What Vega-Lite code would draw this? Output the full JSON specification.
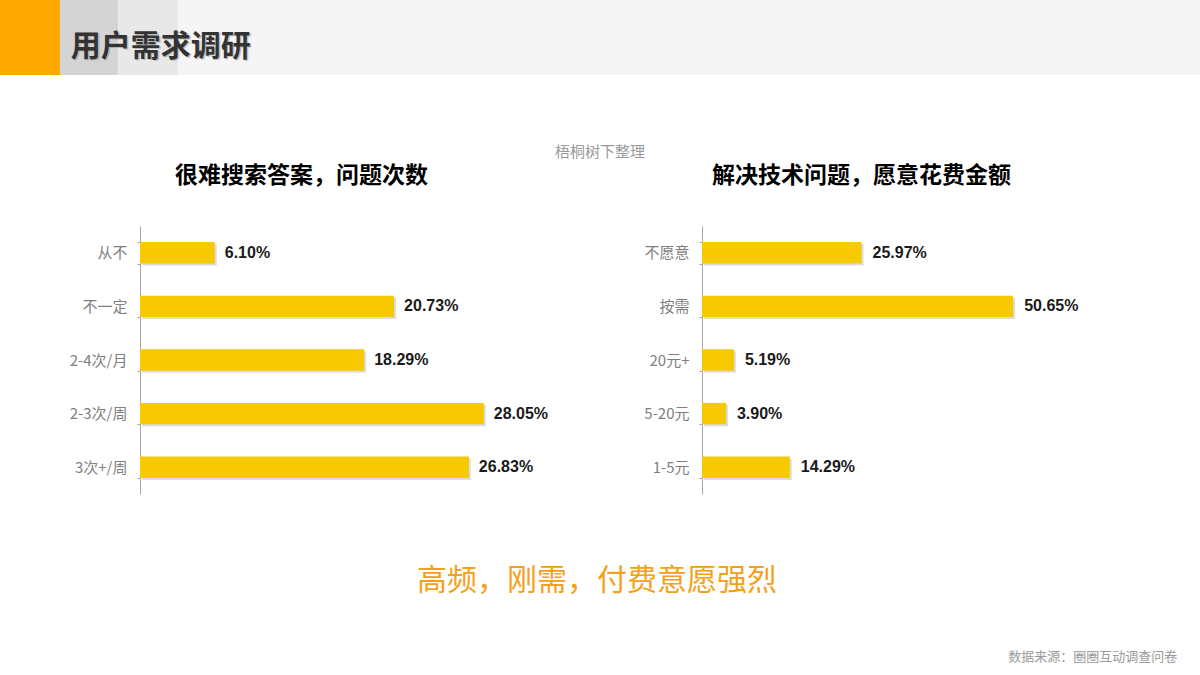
{
  "$schema": "https://vega.github.io/schema/vega-lite/v6.json",
  "padding": 0,
  "background": "white",
  "spacing": 0,
  "config": {"view": {"stroke": null}, "font": "Noto Sans CJK SC", "concat": {"spacing": 0}},
  "datasets": {
    "left": [
      {"cat": "从不", "v": 0.061},
      {"cat": "不一定", "v": 0.2073},
      {"cat": "2-4次/月", "v": 0.1829},
      {"cat": "2-3次/周", "v": 0.2805},
      {"cat": "3次+/周", "v": 0.2683}
    ],
    "right": [
      {"cat": "不愿意", "v": 0.2597},
      {"cat": "按需", "v": 0.5065},
      {"cat": "20元+", "v": 0.0519},
      {"cat": "5-20元", "v": 0.039},
      {"cat": "1-5元", "v": 0.1429}
    ]
  },
  "vconcat": [
    {
      "width": 1060,
      "height": 165,
      "layer": [
        {
          "data": {"values": [
            {"part": "a", "start": 0, "end": 1},
            {"part": "b", "start": 1, "end": 1.97},
            {"part": "c", "start": 1.97, "end": 2.97},
            {"part": "d", "start": 2.97, "end": 20}
          ]},
          "mark": {"type": "rect"},
          "encoding": {
            "x": {"field": "start", "type": "quantitative", "scale": {"domain": [2.3333333, 20], "nice": false, "zero": false}, "axis": null},
            "x2": {"field": "end"},
            "y": {"datum": 0, "type": "quantitative", "scale": {"domain": [0, 11], "reverse": true, "nice": false}, "axis": null},
            "y2": {"datum": 5},
            "color": {"field": "part", "type": "nominal", "scale": {"domain": ["a", "b", "c", "d"], "range": ["#FFA800", "#D4D4D4", "#E8E8E8", "#F5F5F5"]}, "legend": null}
          }
        },
        {
          "data": {"values": [{"t": "用户需求调研", "px": 1.205, "py": 3.18}]},
          "mark": {"type": "text", "align": "left", "baseline": "middle", "fontSize": 30, "fontWeight": "bold", "color": "#999999", "opacity": 0.55},
          "encoding": {
            "x": {"field": "px", "type": "quantitative"},
            "y": {"field": "py", "type": "quantitative"},
            "text": {"field": "t"}
          }
        },
        {
          "data": {"values": [{"t": "用户需求调研", "px": 1.18, "py": 3.13}]},
          "mark": {"type": "text", "align": "left", "baseline": "middle", "fontSize": 30, "fontWeight": "bold", "color": "#333333"},
          "encoding": {
            "x": {"field": "px", "type": "quantitative"},
            "y": {"field": "py", "type": "quantitative"},
            "text": {"field": "t"}
          }
        },
        {
          "data": {"values": [{"t": "梧桐树下整理", "px": 10, "py": 10.13}]},
          "mark": {"type": "text", "align": "center", "baseline": "middle", "fontSize": 15, "color": "#9A9A9A"},
          "encoding": {
            "x": {"field": "px", "type": "quantitative"},
            "y": {"field": "py", "type": "quantitative"},
            "text": {"field": "t"}
          }
        }
      ]
    },
    {
      "hconcat": [
        {
          "width": 429,
          "height": 268,
          "title": {"text": "很难搜索答案，问题次数", "anchor": "start", "frame": "group", "dx": 35, "fontSize": 23, "fontWeight": "bold", "color": "#000000", "offset": 31, "font": "Noto Sans CJK SC"},
          "data": {"name": "left"},
          "encoding": {
            "y": {"field": "cat", "type": "nominal", "sort": null, "scale": {"paddingInner": 0.6, "paddingOuter": 0.3},
              "axis": {"title": null, "domainColor": "#A6A6A6", "tickColor": "#A6A6A6", "tickSize": 3, "tickBand": "extent", "labelFontSize": 15, "labelColor": "#7F7F7F", "labelPadding": 10, "minExtent": 140, "maxExtent": 140, "labelFont": "Noto Sans CJK SC"}},
            "x": {"field": "v", "type": "quantitative", "scale": {"domain": [0, 0.35], "nice": false}, "axis": null}
          },
          "layer": [
            {"mark": {"type": "bar", "color": "#9E9E9E", "opacity": 0.35, "xOffset": 2, "yOffset": 2}},
            {"mark": {"type": "bar", "color": "#F6C900"}},
            {"mark": {"type": "text", "align": "left", "baseline": "middle", "dx": 10, "fontSize": 16, "fontWeight": "bold", "font": "Liberation Sans", "color": "#1A1A1A"},
              "encoding": {"text": {"field": "v", "type": "quantitative", "format": ".2%"}}}
          ]
        },
        {
          "width": 430,
          "height": 268,
          "title": {"text": "解决技术问题，愿意花费金额", "anchor": "start", "frame": "group", "dx": 10, "fontSize": 23, "fontWeight": "bold", "color": "#000000", "offset": 31, "font": "Noto Sans CJK SC"},
          "data": {"name": "right"},
          "encoding": {
            "y": {"field": "cat", "type": "nominal", "sort": null, "scale": {"paddingInner": 0.6, "paddingOuter": 0.3},
              "axis": {"title": null, "domainColor": "#A6A6A6", "tickColor": "#A6A6A6", "tickSize": 3, "tickBand": "extent", "labelFontSize": 15, "labelColor": "#7F7F7F", "labelPadding": 10, "minExtent": 133, "maxExtent": 133, "labelFont": "Noto Sans CJK SC"}},
            "x": {"field": "v", "type": "quantitative", "scale": {"domain": [0, 0.7], "nice": false}, "axis": null}
          },
          "layer": [
            {"mark": {"type": "bar", "color": "#9E9E9E", "opacity": 0.35, "xOffset": 2, "yOffset": 2}},
            {"mark": {"type": "bar", "color": "#F6C900"}},
            {"mark": {"type": "text", "align": "left", "baseline": "middle", "dx": 11, "fontSize": 16, "fontWeight": "bold", "font": "Liberation Sans", "color": "#1A1A1A"},
              "encoding": {"text": {"field": "v", "type": "quantitative", "format": ".2%"}}}
          ]
        }
      ]
    },
    {
      "width": 1060,
      "height": 182,
      "layer": [
        {
          "data": {"values": [{"t": "高频，刚需，付费意愿强烈", "px": 9.95, "py": 6.2}]},
          "mark": {"type": "text", "align": "center", "baseline": "middle", "fontSize": 30, "color": "#F5A01A"},
          "encoding": {
            "x": {"field": "px", "type": "quantitative", "scale": {"domain": [2.3333333, 20], "nice": false, "zero": false}, "axis": null},
            "y": {"field": "py", "type": "quantitative", "scale": {"domain": [0, 13], "reverse": true, "nice": false}, "axis": null},
            "text": {"field": "t"}
          }
        },
        {
          "data": {"values": [{"t": "数据来源：圈圈互动调查问卷", "px": 19.62, "py": 11.65}]},
          "mark": {"type": "text", "align": "right", "baseline": "middle", "fontSize": 13, "color": "#9A9A9A"},
          "encoding": {
            "x": {"field": "px", "type": "quantitative"},
            "y": {"field": "py", "type": "quantitative"},
            "text": {"field": "t"}
          }
        }
      ]
    }
  ]
}
